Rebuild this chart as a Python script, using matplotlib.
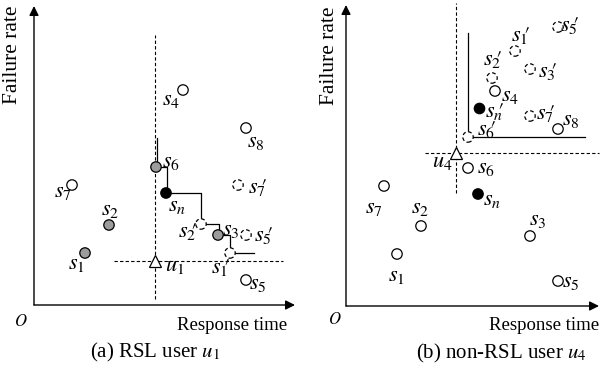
import numpy as np
import matplotlib
matplotlib.use('Agg')
import matplotlib.pyplot as plt

plt.rcParams['font.family'] = ['Liberation Serif', 'DejaVu Serif']
plt.rcParams['mathtext.fontset'] = 'stix'

# base services (shared by both panels), response time / failure rate
names = ['s1', 's2', 's3', 's4', 's5', 's6', 's7', 's8', 'sn']
rt = [51, 75, 184, 149, 212, 122, 38, 212, 132]
fr = [52, 80, 70, 215, 25, 138, 120, 177, 112]

# panel (a): fill of each base service
fill_a = ['#9c9c9c', '#9c9c9c', '#9c9c9c', 'none', 'none', '#9c9c9c', 'none', 'none', 'black']
# panel (a): virtual services (dashed)
virt_a = ["s1'", "s2'", "s5'", "s7'"]
virt_a_rt = [196, 167, 212, 204]
virt_a_fr = [52, 81, 70, 120]
user_a = (121, 44)
# skyline staircase in (a)
sky_rt = [123, 123, 133, 167, 185, 196, 220]
sky_fr = [167, 138, 112, 81, 70, 52, 52]

# panel (b)
fill_b = ['none'] * 8 + ['black']
virt_b = ["s1'", "s2'", "s3'", "s5'", "s6'", "s7'"]
virt_b_rt = [169, 146, 184, 212, 122, 184]
virt_b_fr = [255, 228, 237, 279, 169, 190]
snp_b = (133, 198)
user_b = (110, 153)

# label offsets (pixels)
off_a = {'s1': (-9, -11), 's2': (1, 14), 's3': (13, 5), 's4': (-12, -10), 's5': (12, -4),
         's6': (15, 4), 's7': (-9, -8), 's8': (10, -15), 'sn': (11, -14),
         "s1'": (-10, -15), "s2'": (-14, -7), "s5'": (17, -1), "s7'": (19, -3)}
off_b = {'s1': (-1, -22), 's2': (-1, 17), 's3': (8, 15), 's4': (15, -5), 's5': (13, -2),
         's6': (18, 0), 's7': (-10, -23), 's8': (13, 8), 'sn': (14, -7),
         "s1'": (5, 16), "s2'": (0, 18), "s3'": (17, -2), "s5'": (11, 2),
         "s6'": (18, 7), "s7'": (15, 3), "sn'": (15, -3)}

LFS = 16
MS = 7.5
DASH = (0, (3, 2))


def tex(n):
    # prime stacked over the subscript
    if n.endswith("'"):
        return r"$s_{%s}\!\!\prime$" % n[1:-1]
    return r"$s_{%s}$" % n[1:]


def base(ax, caption, ytop, xend, ylab_x, o_xy, cap_x):
    ax.set_axis_off()
    ax.annotate('', xy=(0, ytop), xytext=(0, 0),
                arrowprops=dict(arrowstyle='-|>', lw=1.0, color='k', mutation_scale=14, shrinkA=0, shrinkB=0))
    ax.annotate('', xy=(xend, 0), xytext=(0, 0),
                arrowprops=dict(arrowstyle='-|>', lw=1.0, color='k', mutation_scale=14, shrinkA=0, shrinkB=0))
    ax.text(ylab_x, 250, 'Failure rate', rotation=90, ha='center', va='center', fontsize=15.5)
    ax.text(253, -20, 'Response time', ha='right', va='center', fontsize=13.5)
    ax.text(o_xy[0], o_xy[1], '$O$', ha='center', va='center', fontsize=12)
    ax.text(cap_x, -47, caption, ha='center', va='center', fontsize=15)


def circles(ax, x, y, fc, ls='-'):
    ax.scatter(x, y, s=MS ** 2, facecolors=fc, edgecolors='k', linewidths=0.9,
               linestyles=ls, zorder=3)


def labels(ax, keys, x, y, off):
    for k, xi, yi in zip(keys, x, y):
        ax.annotate(tex(k), (xi, yi), xytext=off[k], textcoords='offset pixels',
                    ha='center', va='center', fontsize=LFS)


fig = plt.figure(figsize=(6.04, 3.72), dpi=100)

# (a) RSL user u1
ax = fig.add_axes([0, 0, 0.5, 1])
ax.set_xlim(-34, 268)
ax.set_ylim(-67, 305)
base(ax, r'(a) RSL user $u_1$', 299, 261, -21, (-13, -17), 121)
ax.plot([user_a[0], user_a[0]], [6, 270], color='k', lw=0.8, ls=DASH)
ax.plot([80, 249], [user_a[1], user_a[1]], color='k', lw=0.8, ls=DASH)
ax.plot(sky_rt, sky_fr, color='k', lw=0.9, drawstyle='steps-post', zorder=2)
circles(ax, rt, fr, fill_a)
circles(ax, virt_a_rt, virt_a_fr, 'white', DASH)
ax.plot(*user_a, marker='^', ms=9, mfc='white', mec='k', mew=0.9, zorder=4)
labels(ax, names, rt, fr, off_a)
labels(ax, virt_a, virt_a_rt, virt_a_fr, off_a)
ax.annotate(r'$u_1$', user_a, xytext=(20, -5), textcoords='offset pixels',
            ha='center', va='center', fontsize=LFS)

# (b) non-RSL user u4
ax = fig.add_axes([0.5, 0, 0.5, 1])
ax.set_xlim(-44, 258)
ax.set_ylim(-66, 306)
base(ax, r'(b) non-RSL user $u_4$', 301, 253, -17, (-11, -14), 155)
ax.plot([user_b[0], user_b[0]], [113, 303], color='k', lw=0.8, ls=DASH)
ax.plot([79, 253], [user_b[1], user_b[1]], color='k', lw=0.8, ls=DASH)
ax.plot([virt_b_rt[4], virt_b_rt[4], 239], [273, virt_b_fr[4], virt_b_fr[4]], color='k', lw=0.9, zorder=2)
circles(ax, rt, fr, fill_b)
circles(ax, virt_b_rt, virt_b_fr, 'white', DASH)
circles(ax, [snp_b[0]], [snp_b[1]], 'black')
ax.plot(*user_b, marker='^', ms=9, mfc='white', mec='k', mew=0.9, zorder=4)
labels(ax, names, rt, fr, off_b)
labels(ax, virt_b, virt_b_rt, virt_b_fr, off_b)
ax.annotate(r"$s_{n}\!\!\prime$", snp_b, xytext=off_b["sn'"], textcoords='offset pixels',
            ha='center', va='center', fontsize=LFS)
ax.annotate(r'$u_4$', user_b, xytext=(-14, -10), textcoords='offset pixels',
            ha='center', va='center', fontsize=LFS)

fig.savefig('out.png', dpi=100)
